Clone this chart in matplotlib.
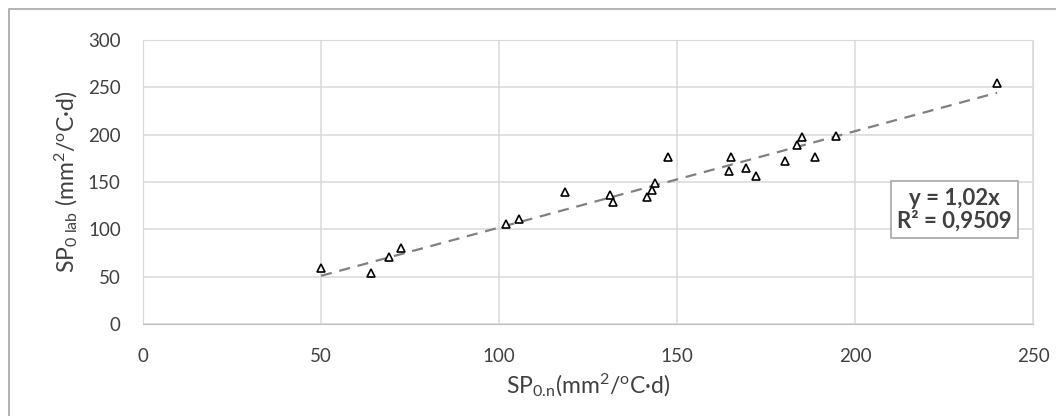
import numpy as np
import matplotlib.pyplot as plt
from matplotlib.patches import Rectangle

params = {'mathtext.default': 'regular', 'font.family': ['Lato', 'DejaVu Sans'],
          'mathtext.fontset': 'custom', 'mathtext.rm': 'Lato', 'mathtext.it': 'Lato'}
plt.rcParams.update(params)

# SP0.n (x) vs SP0 lab (y)
sp_n = [50.0, 64.0, 69.0, 72.6, 102.1, 105.5, 118.4, 131.3, 131.9, 141.6, 142.9, 143.7,
        147.6, 165.1, 164.6, 169.5, 172.1, 180.3, 183.6, 185.1, 188.7, 194.6, 239.9]
sp_lab = [59.5, 53.5, 71.1, 80.0, 105.3, 110.6, 139.8, 136.3, 129.2, 133.8, 141.5, 149.3,
          176.0, 176.0, 161.6, 165.1, 156.0, 172.2, 189.1, 197.2, 176.0, 198.6, 254.9]
eq_text = 'y = 1,02x\nR² = 0,9509'

x = np.array(sp_n)
y = np.array(sp_lab)
slope = np.sum(x * y) / np.sum(x * x)   # trend line forced through origin

fig = plt.figure(figsize=(10.56, 4.16), dpi=100)
ax = fig.add_axes([143/1056, 1 - 324/416, (1033 - 143)/1056, (324 - 40)/416])

# outer chart border (cropped at right and bottom)
fig.patches.append(Rectangle((9/1056, -0.1), 1.2, 1 - 9/416 + 0.1, transform=fig.transFigure,
                             fill=False, edgecolor='#a6a6a6', linewidth=1.2))

xt = np.array([x.min(), x.max()])
ax.plot(xt, slope * xt, color='#808080', linestyle=(0, (5, 3.5)), linewidth=1.6, zorder=2)
ax.plot(x, y, linestyle='none', marker='^', markersize=5.5, markerfacecolor='white',
        markeredgecolor='black', markeredgewidth=1.2, zorder=3)

ax.set_xlim(0, 250)
ax.set_ylim(0, 300)
ax.set_xticks(range(0, 251, 50))
ax.set_yticks(range(0, 301, 50))
ax.grid(True, color='#d9d9d9', linewidth=1.1)
ax.set_axisbelow(True)
for s in ['top', 'right', 'left']:
    ax.spines[s].set_color('#d9d9d9')
ax.spines['bottom'].set_color('#bfbfbf')
ax.tick_params(length=0, labelsize=13.5, labelcolor='#404040')
ax.tick_params(axis='x', pad=17)
ax.tick_params(axis='y', pad=16)

ax.set_xlabel('SP$_{0.\\!n}$(mm$^{2}$/$^{o}$C·d)', fontsize=16.5, color='#404040', labelpad=5)
ax.set_ylabel('SP$_{0\\ lab}$ (mm$^{2}$/$^{o}$C·d)', fontsize=16.5, color='#404040', labelpad=6)

ax.text(0.912, 0.403, eq_text, transform=ax.transAxes, ha='center', va='center',
        fontsize=16, fontweight='bold', color='#404040', linespacing=1.1,
        bbox=dict(boxstyle='square,pad=0.28', facecolor='white', edgecolor='#a6a6a6', linewidth=1.2))

fig.savefig('out.png', dpi=100)
